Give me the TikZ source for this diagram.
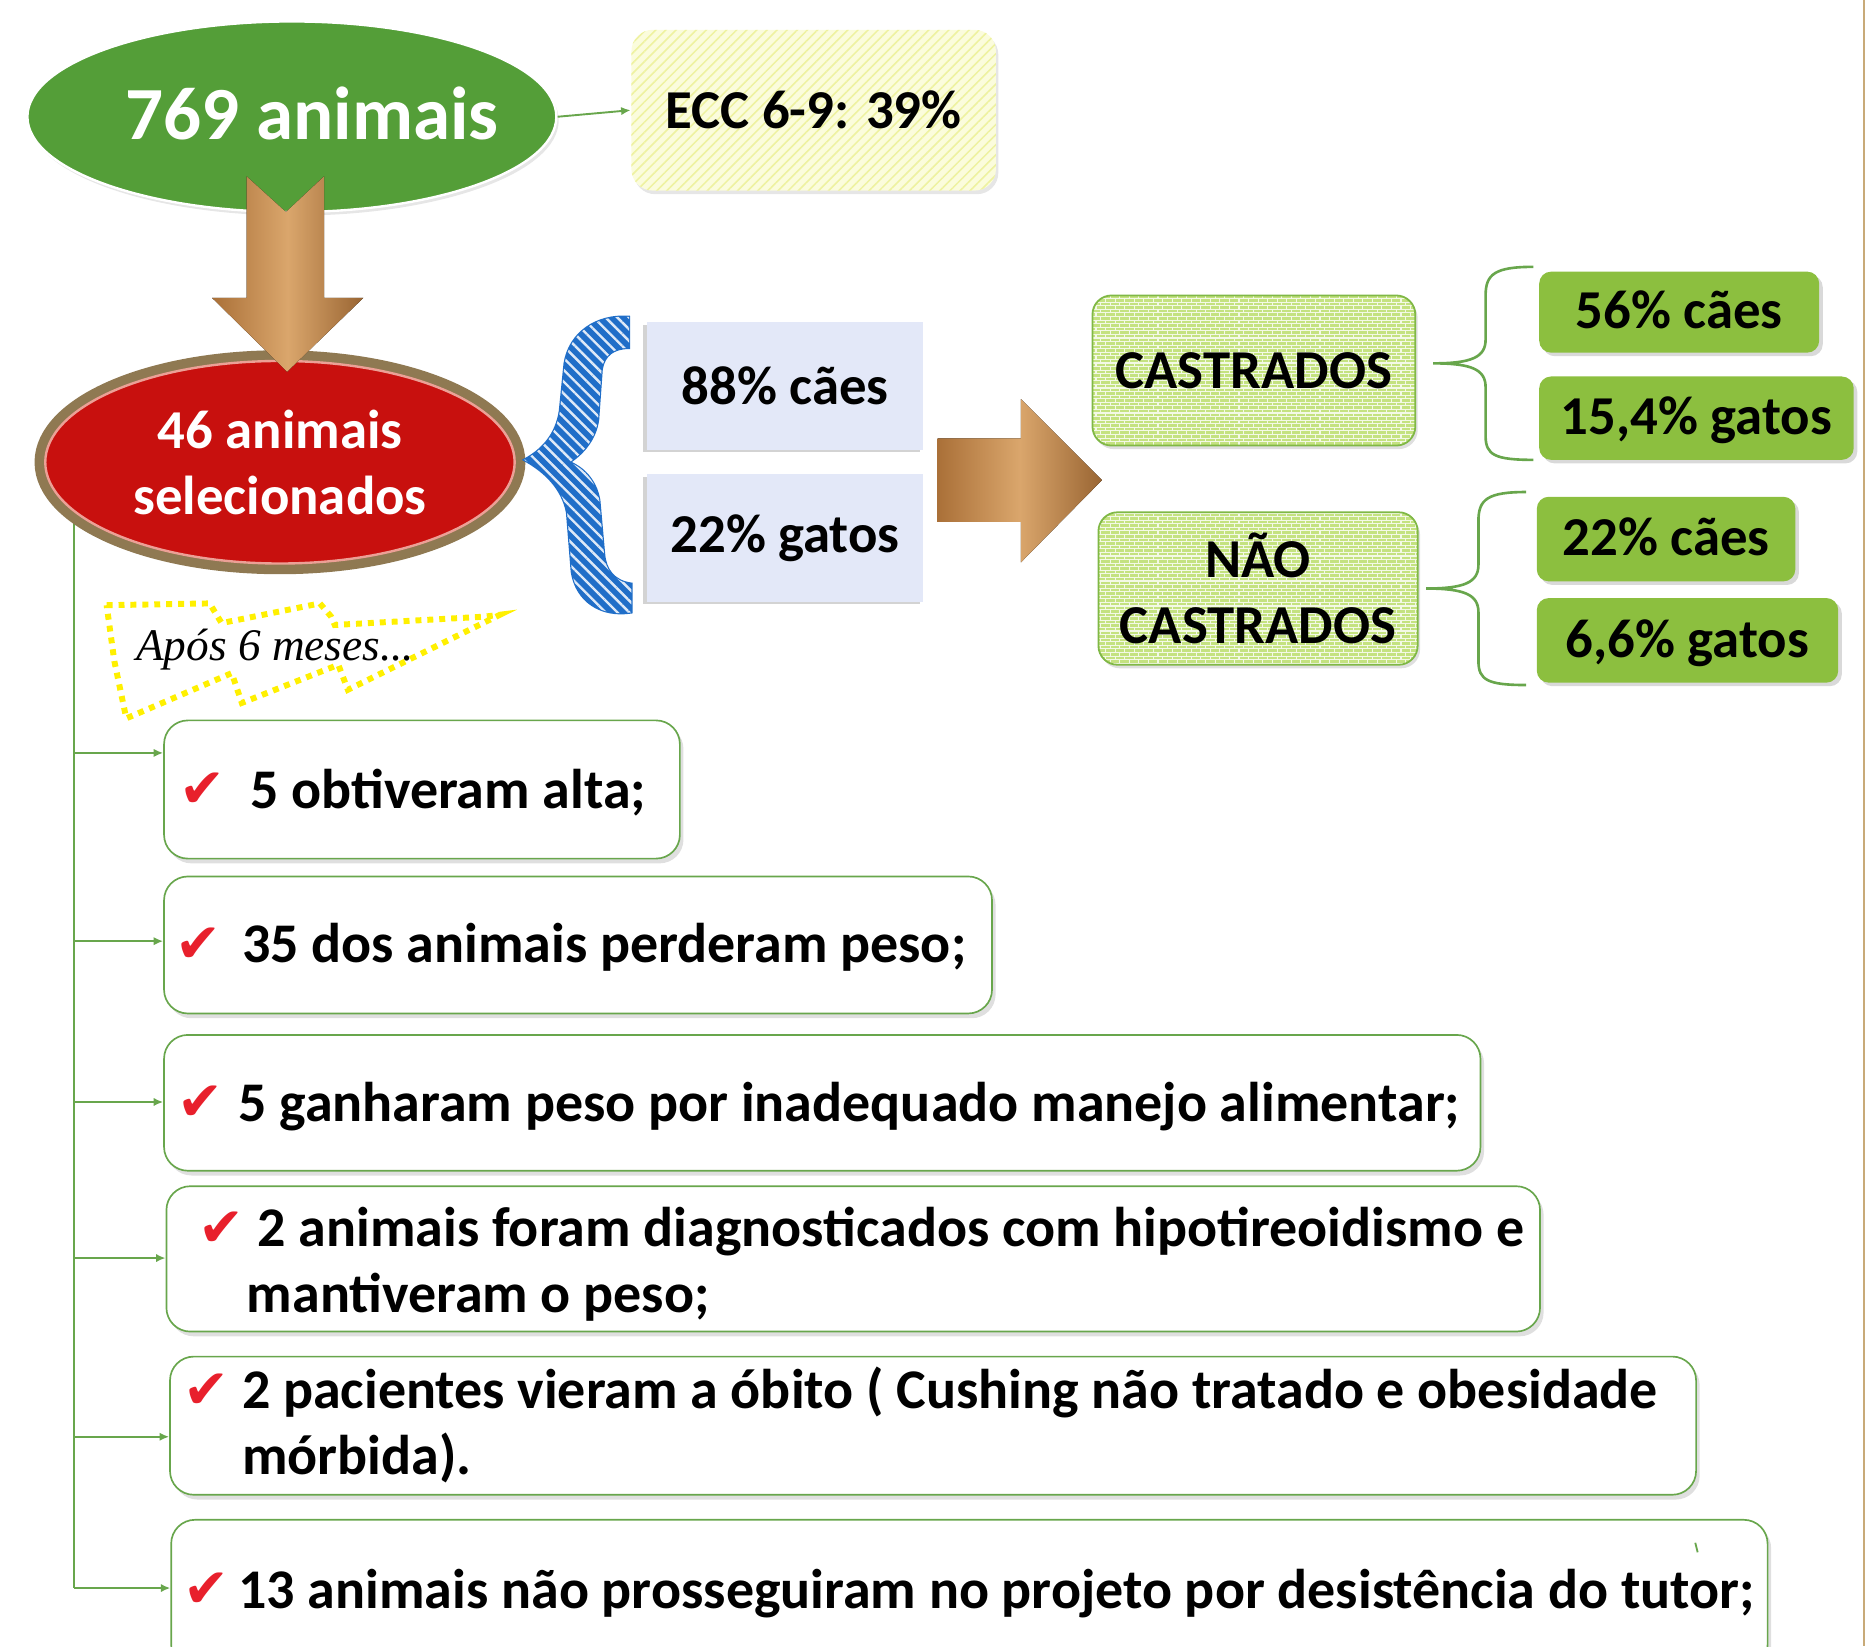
\documentclass[tikz,border=0pt]{standalone}
\usepackage{fontspec}
\setmainfont{Carlito}
\newfontfamily\checkfont{DejaVu Sans}
\newfontfamily\italfont{Liberation Serif}
\usetikzlibrary{shapes,arrows.meta,positioning,calc,shadows,patterns,patterns.meta}

\definecolor{allgreen}{RGB}{84,158,56}
\definecolor{eccfill}{RGB}{251,252,220}
\definecolor{eccline}{RGB}{238,242,160}
\definecolor{selred}{RGB}{200,16,14}
\definecolor{selring}{RGB}{143,121,82}
\definecolor{selpink}{RGB}{236,160,150}
\definecolor{bracebl}{RGB}{32,110,200}
\definecolor{lavfill}{RGB}{227,232,248}
\definecolor{castfill}{RGB}{196,226,128}
\definecolor{castline}{RGB}{128,184,70}
\definecolor{subgreen}{RGB}{140,191,63}
\definecolor{gline}{RGB}{104,166,76}
\definecolor{checkred}{RGB}{232,32,44}
\definecolor{wooddk}{RGB}{170,112,56}
\definecolor{woodmd}{RGB}{218,166,108}
\definecolor{dotyellow}{RGB}{255,240,0}
\definecolor{frameline}{RGB}{200,170,120}

\pgfdeclarepatternformonly{minibricks}{\pgfpoint{-1pt}{-1pt}}{\pgfpoint{9pt}{7pt}}{\pgfpoint{8pt}{6pt}}{%
  \pgfsetlinewidth{0.9pt}
  \pgfpathmoveto{\pgfpoint{0pt}{0pt}}\pgfpathlineto{\pgfpoint{8pt}{0pt}}
  \pgfpathmoveto{\pgfpoint{0pt}{3pt}}\pgfpathlineto{\pgfpoint{8pt}{3pt}}
  \pgfpathmoveto{\pgfpoint{0pt}{0pt}}\pgfpathlineto{\pgfpoint{0pt}{3pt}}
  \pgfpathmoveto{\pgfpoint{4pt}{3pt}}\pgfpathlineto{\pgfpoint{4pt}{6pt}}
  \pgfusepath{stroke}}

\begin{document}
\begin{tikzpicture}[
  x=1pt, y=-1pt,
  big/.style = {font=\bfseries\fontsize{46}{55}\selectfont},
  link/.style = {draw=gline, line width=1.6pt, -{Latex[length=8pt,width=7pt]}},
  wood/.style = {left color=wooddk, right color=wooddk!90!black, middle color=woodmd},
  share/.style = {big, fill=lavfill, minimum width=232pt, minimum height=107pt,
    drop shadow={shadow xshift=-3pt, shadow yshift=-2pt, opacity=.35}},
  castbox/.style = {big, align=center, draw=castline, line width=1.5pt, rounded corners=16pt,
    drop shadow={shadow xshift=2pt, shadow yshift=-3pt, opacity=.25},
    preaction={fill=castfill}, pattern=minibricks, pattern color=white!80!castfill},
  subbox/.style = {big, fill=subgreen, rounded corners=10pt, text height=34pt, text depth=6pt,
    drop shadow={shadow xshift=3pt, shadow yshift=-3pt, opacity=.3}},
  item/.style = {draw=gline, line width=1.4pt, fill=white, rounded corners=20pt, anchor=north west,
    drop shadow={shadow xshift=3pt, shadow yshift=-4pt, opacity=.25}},
  body/.style = {font=\bfseries\fontsize{47}{55}\selectfont, anchor=base west, inner sep=0pt},
  tick/.style = {text=checkred, font=\checkfont\fontsize{46}{46}\selectfont, inner sep=0pt},
  gbrace/.pic = {
    \draw[gline, line width=2.2pt] (84,-81) .. controls (52,-81) and (44,-75) .. (44,-57)
      -- (44,-20) .. controls (44,-5) and (32,0) .. (0,0)
      .. controls (32,0) and (44,5) .. (44,20) -- (44,61)
      .. controls (44,77) and (52,81) .. (84,81);
  },
  ]
  \useasboundingbox (0,0) rectangle (1568,1381.7);
  \draw[frameline, line width=1.5pt] (1564.5,0) -- (1564.5,1381.7);

  % trunk behind the red ellipse
  \coordinate (trunk) at (62,420);
  \coordinate (trunkend) at (62,1333);
  \draw[gline, line width=2pt] (trunk) -- (trunkend);

  \node[ellipse, fill=allgreen, draw=white, line width=2pt, minimum width=444pt, minimum height=160pt,
    drop shadow={shadow xshift=2pt, shadow yshift=-3pt, opacity=.2}] (all) at (245,98) {};
  \node[text=white, font=\bfseries\fontsize{63}{70}\selectfont, inner sep=0pt] (alltext) at (262,95) {769 animais};

  \node[big, ellipse, align=center, text=white, fill=selred, draw=selpink, line width=2pt,
    preaction={draw=selring, line width=18pt}, minimum width=394pt, minimum height=170pt]
    (sel) at (235,388) {46 animais\\selecionados};

  \fill[wood] (207,148) -- (240,178) -- (272,148) -- (272,250) -- (305,250) -- (241,312)
    -- (178,250) -- (207,250) -- cycle;

  \node[big, rounded corners=18pt, minimum width=306pt, minimum height=135pt,
    drop shadow={shadow xshift=2pt, shadow yshift=-3pt, opacity=.2},
    preaction={fill=eccfill}, pattern={Lines[angle=45,distance=6pt,line width=1.3pt]},
    pattern color=eccline] (ecc) at (683,92.5) {ECC 6-9: 39\%};
  \draw[link] (all.east) -- (ecc.west);

  % blue brace
  \path[fill=bracebl, draw=bracebl, line width=2pt, postaction={pattern={Lines[angle=-45,distance=7pt,line width=2pt]}, pattern color=white!85!bracebl}]
    (528,266) .. controls (500,264) and (478,280) .. (474,305) -- (470,345)
    .. controls (467,365) and (455,378) .. (440,386)
    .. controls (458,396) and (472,410) .. (476,430) -- (480,480)
    .. controls (484,505) and (505,518) .. (530,514) -- (530,490)
    .. controls (515,488) and (508,478) .. (507,465) -- (503,420)
    .. controls (500,402) and (488,392) .. (478,388)
    .. controls (490,380) and (500,368) .. (502,352) -- (505,310)
    .. controls (507,298) and (515,292) .. (528,292) -- cycle;

  \node[share] (dogs) at (659,324) {88\% cães};
  \node[share] (cats) at (659,451.5) {22\% gatos};

  \fill[wood] (787,368) -- (857,368) -- (857,335) -- (925,403) -- (857,472) -- (857,438)
    -- (787,438) -- cycle;

  \node[castbox, minimum width=271pt, minimum height=126pt] (cast) at (1052.5,311) {CASTRADOS};
  \node[castbox, minimum width=268pt, minimum height=128pt] (ncast) at (1056,494) {NÃO\\CASTRADOS};

  \path (1203,305) pic {gbrace};
  \path (1197,494) pic {gbrace};

  \node[subbox, minimum width=235pt, minimum height=68pt] (castdog) at (1409.5,262) {56\% cães};
  \node[subbox, minimum width=264pt, minimum height=70pt] (castcat) at (1424,351) {15,4\% gatos};
  \node[subbox, minimum width=217pt, minimum height=71pt] (ncastdog) at (1398.5,452.5) {22\% cães};
  \node[subbox, minimum width=253pt, minimum height=71pt] (ncastcat) at (1416.5,537.5) {6,6\% gatos};

  % after six months
  \draw[dotyellow, line width=5pt, dash pattern=on 5pt off 5pt]
    (89.5,508) -- (176,506.5) -- (186,523) -- (268.5,506.5) -- (278,517.6) -- (281,524.6)
    -- (407,517.6) -- (419.7,516) -- (292,579) -- (284,558) -- (203,590) -- (194.5,565)
    -- (106,603) -- (96,555) -- cycle;
  \node[font=\italfont\itshape\fontsize{38}{38}\selectfont, anchor=base, inner sep=0pt] (later) at (231,554) {Após 6 meses...};

  \foreach \n/\x/\y/\w/\h in {1/137/604/433pt/116pt, 2/137/735/695pt/115pt, 3/137/868/1105pt/114pt,
      4/139/995/1153pt/122pt, 5/142/1138/1281pt/116pt, 6/143/1275/1340pt/125pt}
    \node[item, minimum width=\w, minimum height=\h] (b\n) at (\x,\y) {};

  \foreach \b/\y in {b1/632, b2/790, b3/925, b4/1056, b5/1206, b6/1333}
    \draw[link] (trunk |- 0,\y) -- (\b.west |- 0,\y);

  \node[tick] (k1) at (170,663) {✔};
  \node[tick] (k2) at (167,793) {✔};
  \node[tick] (k3) at (168,926) {✔};
  \node[tick] (k4) at (186,1032) {✔};
  \node[tick] (k5) at (173,1168) {✔};
  \node[tick] (k6) at (173,1335) {✔};

  \node[body] (t1) at (210,679) {5 obtiveram alta;};
  \node[body] (t2) at (203,808) {35 dos animais perderam peso;};
  \node[body] (t3) at (200,941) {5 ganharam peso por inadequado manejo alimentar;};
  \node[body, anchor=west, align=left] (t4) at (207,1061) {\hspace*{9pt}2 animais foram diagnosticados com hipotireoidismo e\\mantiveram o peso;};
  \node[body, anchor=west, align=left] (t5) at (203,1196) {2 pacientes vieram a óbito ( Cushing não tratado e obesidade\\mórbida).};
  \node[body] (t6) at (200,1350) {13 animais não prosseguiram no projeto por desistência do tutor;};
  \draw[gline, line width=1.5pt] (1423,1295) -- (1425,1303);
\end{tikzpicture}
\end{document}
